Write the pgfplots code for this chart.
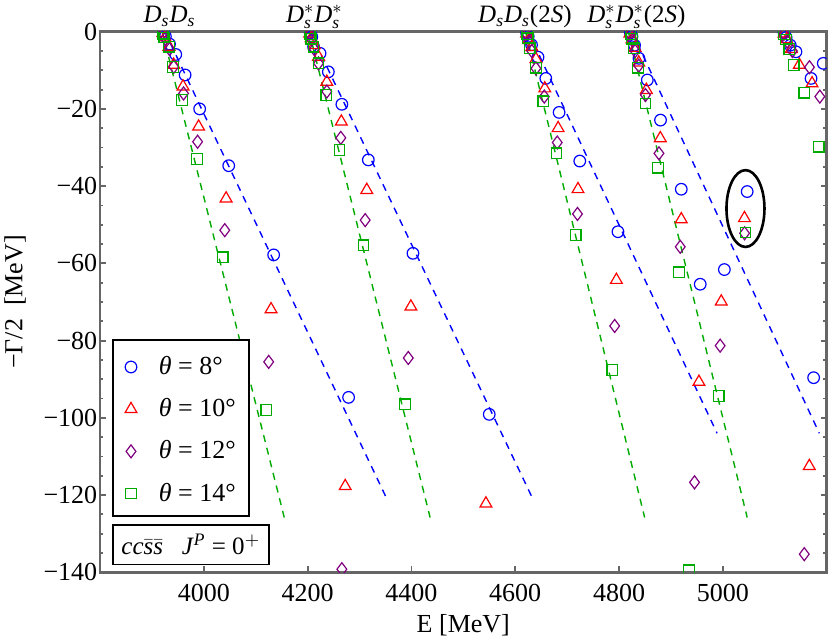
\documentclass[border=0pt]{standalone}
\usepackage{fontspec}
\setmainfont{Liberation Serif}
\usepackage{amsmath}
\usepackage{pgfplots}
\pgfplotsset{compat=1.18}
\definecolor{mblue}{rgb}{0,0,1}
\definecolor{mred}{rgb}{1,0,0}
\definecolor{mpurple}{rgb}{0.5,0,0.5}
\definecolor{mgreen}{rgb}{0,0.67,0}
\definecolor{framegray}{gray}{0.4}
\newcommand{\fs}{\fontsize{13}{15}\selectfont}
\begin{document}
\begin{tikzpicture}
\begin{axis}[
 at={(0,0)}, anchor=south west,
 scale only axis, width=363.3pt, height=270.3pt,
 xmin=3800, xmax=5200, ymin=-140, ymax=0,
 axis line style={framegray, line width=1.3pt},
 xtick={4000,4200,4400,4600,4800,5000},
 xticklabels={4000,4200,4400,4600,4800,5000},
 ytick={-140,-120,-100,-80,-60,-40,-20,0},
 yticklabels={−140,−120,−100,−80,−60,−40,−20,0},
 minor y tick num=3,
 xtick pos=left, ytick pos=both,
 tick align=inside,
 major tick length=3pt, minor tick length=1.7pt,
 every tick/.style={framegray, line width=0.9pt},
 tick label style={font=\fs},
 xticklabel style={inner ysep=0pt, yshift=-6pt},
 yticklabel style={inner xsep=1.2pt},
 xlabel={E [MeV]}, ylabel={−Γ/2\ \ [MeV]},
 label style={font=\fs},
 xlabel style={at={(axis description cs:0.5,-0.098)}, anchor=center},
 ylabel style={at={(axis description cs:-0.117,0.5)}, anchor=center},
 clip marker paths=true,
 legend style={at={(rel axis cs:0.0175,0.4112)}, anchor=north west, draw=none, fill=none, font=\fs, inner xsep=6pt, inner ysep=1pt, row sep=6.5pt, column sep=9pt},
 legend cell align=left,
]
\addplot[mblue, dash pattern=on 3.5pt off 3pt, line width=0.7pt, forget plot] coordinates {(3925,0) (4351,-120.5)};
\addplot[mgreen, dash pattern=on 3.5pt off 3pt, line width=0.7pt, forget plot] coordinates {(3920,0) (4155,-125.8)};
\addplot[mblue, dash pattern=on 3.5pt off 3pt, line width=0.7pt, forget plot] coordinates {(4205,0) (4631.5,-120.3)};
\addplot[mgreen, dash pattern=on 3.5pt off 3pt, line width=0.7pt, forget plot] coordinates {(4203,0) (4436,-125.8)};
\addplot[mblue, dash pattern=on 3.5pt off 3pt, line width=0.7pt, forget plot] coordinates {(4625,0) (4989,-104)};
\addplot[mgreen, dash pattern=on 3.5pt off 3pt, line width=0.7pt, forget plot] coordinates {(4620,0) (4849.4,-125.8)};
\addplot[mblue, dash pattern=on 3.5pt off 3pt, line width=0.7pt, forget plot] coordinates {(4825,0) (5186,-104)};
\addplot[mgreen, dash pattern=on 3.5pt off 3pt, line width=0.7pt, forget plot] coordinates {(4818,0) (5047,-125.8)};

\addplot[only marks, mark=o, mark size=2.9pt, mblue, line width=0.6pt] coordinates {
(3922,-0.3)(3926,-1.2)(3934,-3.2)(3946,-5.9)(3964,-11.2)(3992,-20.0)(4048,-34.7)(4134.6,-57.8)(4279,-94.7)
(4205,-0.3)(4208,-1.3)(4211.5,-3.9)(4224,-5.6)(4240,-10.4)(4266,-18.8)(4317,-33.2)(4403,-57.4)(4550,-99.1)
(4622,-0.3)(4625,-1.2)(4631.5,-3.4)(4644,-6.6)(4659,-12.1)(4684.6,-20.9)(4724.4,-33.5)(4798,-51.8)(4956.5,-65.4)
(4822,-0.3)(4825,-1.2)(4830,-3.5)(4838.5,-6.9)(4854.6,-12.5)(4880,-22.9)(4920,-40.8)(5003,-61.6)(5047,-41.4)(5175,-89.6)
(5118,-0.3)(5122,-1.5)(5130,-3.5)(5141,-5.2)(5170,-12.1)(5193.6,-8.2)
};
\addlegendentry{\textit{θ} = 8°}
\addplot[only marks, mark=triangle, mark size=3.4pt, mred, line width=0.6pt] coordinates {
(3921,-0.4)(3925,-1.5)(3933,-3.9)(3942,-8.6)(3960,-14.2)(3990,-24.6)(4043,-43.2)(4129.6,-71.9)(4272.5,-117.7)
(4204,-0.5)(4207,-1.7)(4213,-3.5)(4221,-6.5)(4237,-13)(4265,-23.3)(4314,-41)(4399,-71.2)(4543.6,-122.2)
(4622,-0.5)(4626,-2.2)(4632,-4)(4640,-7.1)(4657,-14.7)(4682.7,-25)(4721,-40.8)(4795,-64.3)
(4821,-0.5)(4825,-2)(4831,-4.2)(4838,-8)(4852.7,-15.1)(4879.6,-27.6)(4920,-48.6)(4954,-90.7)(4997,-69.9)(5041.7,-48.3)(5166.7,-112.5)
(5118,-0.5)(5123,-2)(5132,-4.5)(5147.5,-8.6)(5172,-13.4)
};
\addlegendentry{\textit{θ} = 10°}
\addplot[only marks, mark=diamond, mark size=3.25pt, mpurple, line width=0.6pt] coordinates {
(3921,-0.4)(3926,-1.8)(3934,-4.5)(3942,-9.1)(3961,-16)(3988,-28.5)(4040.4,-51.4)(4125,-85.5)(4266,-139.2)
(4204,-0.5)(4208,-2)(4213,-4.5)(4221,-8.2)(4237,-15.5)(4264,-27.5)(4311,-48.8)(4394,-84.5)
(4622,-0.5)(4627,-2.5)(4632,-5)(4640,-9.5)(4656,-16.8)(4681,-28.7)(4720,-47.2)(4791.7,-76.2)
(4821,-0.5)(4826,-2.3)(4831,-5)(4838,-8.8)(4851,-16.4)(4877,-31.5)(4918,-55.7)(4945.5,-116.7)(4994.9,-81.3)(5042,-52.2)(5157,-135.3)
(5118,-0.5)(5124,-2.5)(5134,-5)(5167,-9.2)(5187,-16.8)
};
\addlegendentry{\textit{θ} = 12°}
\addplot[only marks, mark=square, mark size=2.65pt, mgreen, line width=0.6pt] coordinates {
(3921,-0.5)(3924,-1.5)(3933,-3.9)(3941,-9.1)(3958,-17.7)(3987,-33)(4036.5,-58.4)(4120.6,-98)
(4204,-0.6)(4207,-1.8)(4211.5,-3.9)(4221,-8.2)(4236,-16.4)(4261.5,-30.6)(4307.7,-55.3)(4388,-96.5)
(4623,-0.6)(4625,-1.7)(4628,-4.3)(4640,-9.3)(4654,-18)(4679.6,-31.5)(4716.7,-52.7)(4787,-87.6)
(4822,-0.6)(4825,-1.8)(4829,-4.3)(4836.5,-9.3)(4851,-18.6)(4875,-35.2)(4915.4,-62.3)(4934.6,-139.5)(4992,-94.3)(5043.7,-52)
(5118,-0.6)(5122,-2)(5128,-4.5)(5136.5,-8.6)(5157,-15.8)(5184.6,-29.8)
};
\addlegendentry{\textit{θ} = 14°}
\draw[black, line width=1.3pt] (axis cs:5043.7,-45.8) ellipse [x radius=9.5pt, y radius=19.2pt];
\draw[black, line width=0.8pt, fill=white] (rel axis cs:0.0175,0.4297) rectangle (rel axis cs:0.2054,0.1041);
\coordinate (t1) at (axis cs:3934,0);
\coordinate (t2) at (axis cs:4213,0);
\coordinate (t3) at (axis cs:4618.7,0);
\coordinate (t4) at (axis cs:4833.5,0);
\coordinate (bx) at (rel axis cs:0.125,0.051);
\end{axis}
\begin{scope}[every node/.style={anchor=base, font=\fontsize{12.5}{14}\selectfont, inner sep=0pt, yshift=4.6pt}]
\node at (t1) {\textit{D}$_{\textit{s}}$\textit{D}$_{\textit{s}}$};
\node at (t2) {\textit{D}$^{*}_{\textit{s}}$\textit{D}$^{*}_{\textit{s}}$};
\node at (t3) {\textit{D}$_{\textit{s}}$\textit{D}$_{\textit{s}}$(2\textit{S})};
\node at (t4) {\textit{D}$^{*}_{\textit{s}}$\textit{D}$^{*}_{\textit{s}}$(2\textit{S})};
\end{scope}
\node[draw=black, line width=0.8pt, fill=white, minimum width=78pt, minimum height=19.7pt, inner xsep=2pt, font=\fontsize{12.5}{14}\selectfont] at (bx) {\textit{cc}$\bar{\textit{s}}\bar{\textit{s}}$\enspace\ \textit{J}$^{\textit{P}}$ = 0$^{+}$};
\pgfresetboundingbox
\path[use as bounding box] (-50pt,-32.35pt) rectangle (365pt,286.15pt);
\end{tikzpicture}
\end{document}
